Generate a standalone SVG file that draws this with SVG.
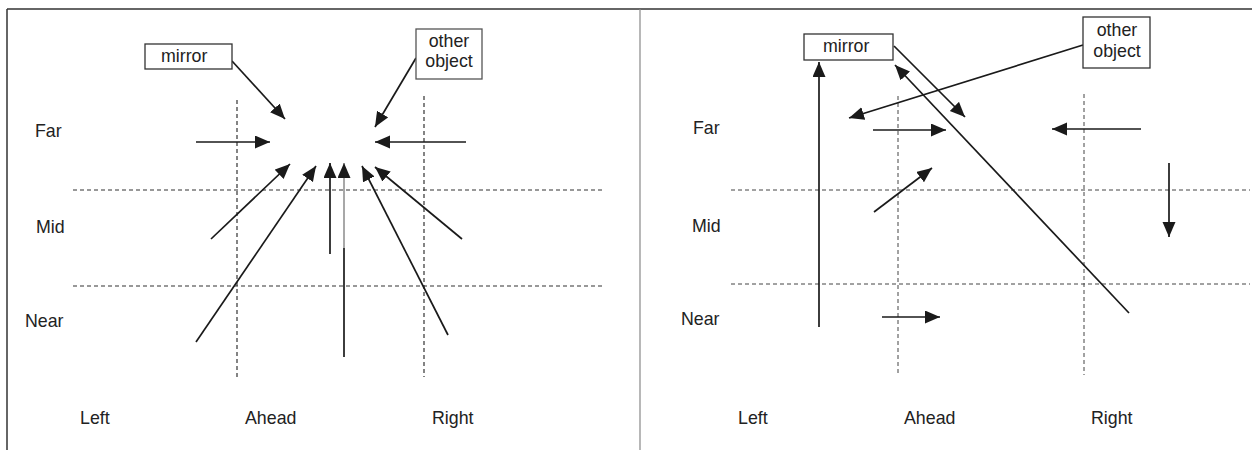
<svg xmlns="http://www.w3.org/2000/svg" width="1252" height="450" viewBox="0 0 1252 450">
<style>
text{font-family:"Liberation Sans",Arial,sans-serif;font-size:17.8px;fill:#222}
.frame{stroke:#333;stroke-width:1.5;fill:none}
.div{stroke:#888;stroke-width:1.2;fill:none}
.grid{stroke:#333;stroke-width:1.2;stroke-dasharray:4,3;fill:none}
.gridr{stroke:#444;stroke-width:1;stroke-dasharray:4,3;fill:none}
.box{fill:#fff;stroke:#333;stroke-width:1.3}
.box2{fill:#fff;stroke:#555;stroke-width:1.3}
.arr{stroke:#1a1a1a;stroke-width:1.7;fill:none;marker-end:url(#ah)}
.ln{stroke:#1a1a1a;stroke-width:1.7;fill:none}
</style>
<defs>
<marker id="ah" markerUnits="userSpaceOnUse" markerWidth="17" markerHeight="14" refX="15" refY="6.5" orient="auto">
<path d="M0,0 L15,6.5 L0,13 z" fill="#1a1a1a"/>
</marker>
</defs>
<rect width="1252" height="450" fill="#fff"/>
<g id="frame">
<line class="frame" x1="7" y1="9" x2="1252" y2="9"/>
<line class="frame" x1="7" y1="9" x2="7" y2="450"/>
<line class="div" x1="640" y1="9" x2="640" y2="450"/>
</g>
<g id="grid-left">
<line class="grid" x1="237" y1="100" x2="237" y2="378"/>
<line class="grid" x1="424" y1="96" x2="424" y2="377"/>
<line class="grid" x1="73" y1="190" x2="602" y2="190"/>
<line class="grid" x1="73" y1="286" x2="602" y2="286"/>
</g>
<g id="grid-right">
<line class="gridr" x1="898" y1="96" x2="898" y2="375"/>
<line class="gridr" x1="1084" y1="94" x2="1084" y2="375"/>
<line class="gridr" x1="731" y1="190" x2="1250" y2="190"/>
<line class="gridr" x1="731" y1="284" x2="1250" y2="284"/>
</g>
<g id="labels-left">
<text x="35" y="137">Far</text>
<text x="36" y="233">Mid</text>
<text x="25" y="327">Near</text>
<text x="80" y="424">Left</text>
<text x="245" y="424">Ahead</text>
<text x="432" y="424">Right</text>
</g>
<g id="labels-right">
<text x="693" y="134">Far</text>
<text x="692" y="232">Mid</text>
<text x="681" y="325">Near</text>
<text x="738" y="424">Left</text>
<text x="904" y="424">Ahead</text>
<text x="1091" y="424">Right</text>
</g>
<g id="connectors-left">
<line class="arr" x1="232" y1="61" x2="285" y2="119"/>
<line class="arr" x1="416" y1="58" x2="375" y2="127"/>
<line class="arr" x1="196" y1="142" x2="270" y2="142"/>
<line class="arr" x1="466" y1="142" x2="375" y2="142"/>
<line class="arr" x1="211" y1="239" x2="290" y2="164"/>
<line class="arr" x1="196" y1="342" x2="316" y2="166"/>
<line class="arr" x1="330" y1="254" x2="330" y2="163"/>
<line class="ln" x1="344" y1="357" x2="344" y2="248"/>
<line class="arr" x1="344" y1="248" x2="344" y2="163" style="stroke:#999"/>
<line class="arr" x1="448" y1="335" x2="362" y2="166"/>
<line class="arr" x1="462" y1="239" x2="375" y2="167"/>
</g>
<g id="connectors-right">
<line class="arr" x1="819" y1="327" x2="819" y2="62"/>
<line class="arr" x1="894" y1="46" x2="965" y2="117"/>
<line class="arr" x1="1129" y1="313" x2="895" y2="65"/>
<line class="arr" x1="1083" y1="45" x2="849" y2="118"/>
<line class="arr" x1="873" y1="130" x2="946" y2="130"/>
<line class="arr" x1="1141" y1="129" x2="1052" y2="129"/>
<line class="arr" x1="874" y1="212" x2="932" y2="168"/>
<line class="arr" x1="1169" y1="163" x2="1169" y2="237"/>
<line class="arr" x1="882" y1="317" x2="940" y2="317"/>
</g>
<g id="mirror-left">
<rect class="box" x="145" y="44" width="87" height="25"/>
<text x="161" y="62">mirror</text>
</g>
<g id="other-left">
<rect class="box2" x="416" y="29" width="66" height="50"/>
<text x="449" y="47" text-anchor="middle">other</text>
<text x="449" y="67" text-anchor="middle">object</text>
</g>
<g id="mirror-right">
<rect class="box" x="804" y="34" width="89" height="26"/>
<text x="823" y="52">mirror</text>
</g>
<g id="other-right">
<rect class="box" x="1083" y="17" width="67" height="51"/>
<text x="1117" y="36" text-anchor="middle">other</text>
<text x="1117" y="57" text-anchor="middle">object</text>
</g>
</svg>
